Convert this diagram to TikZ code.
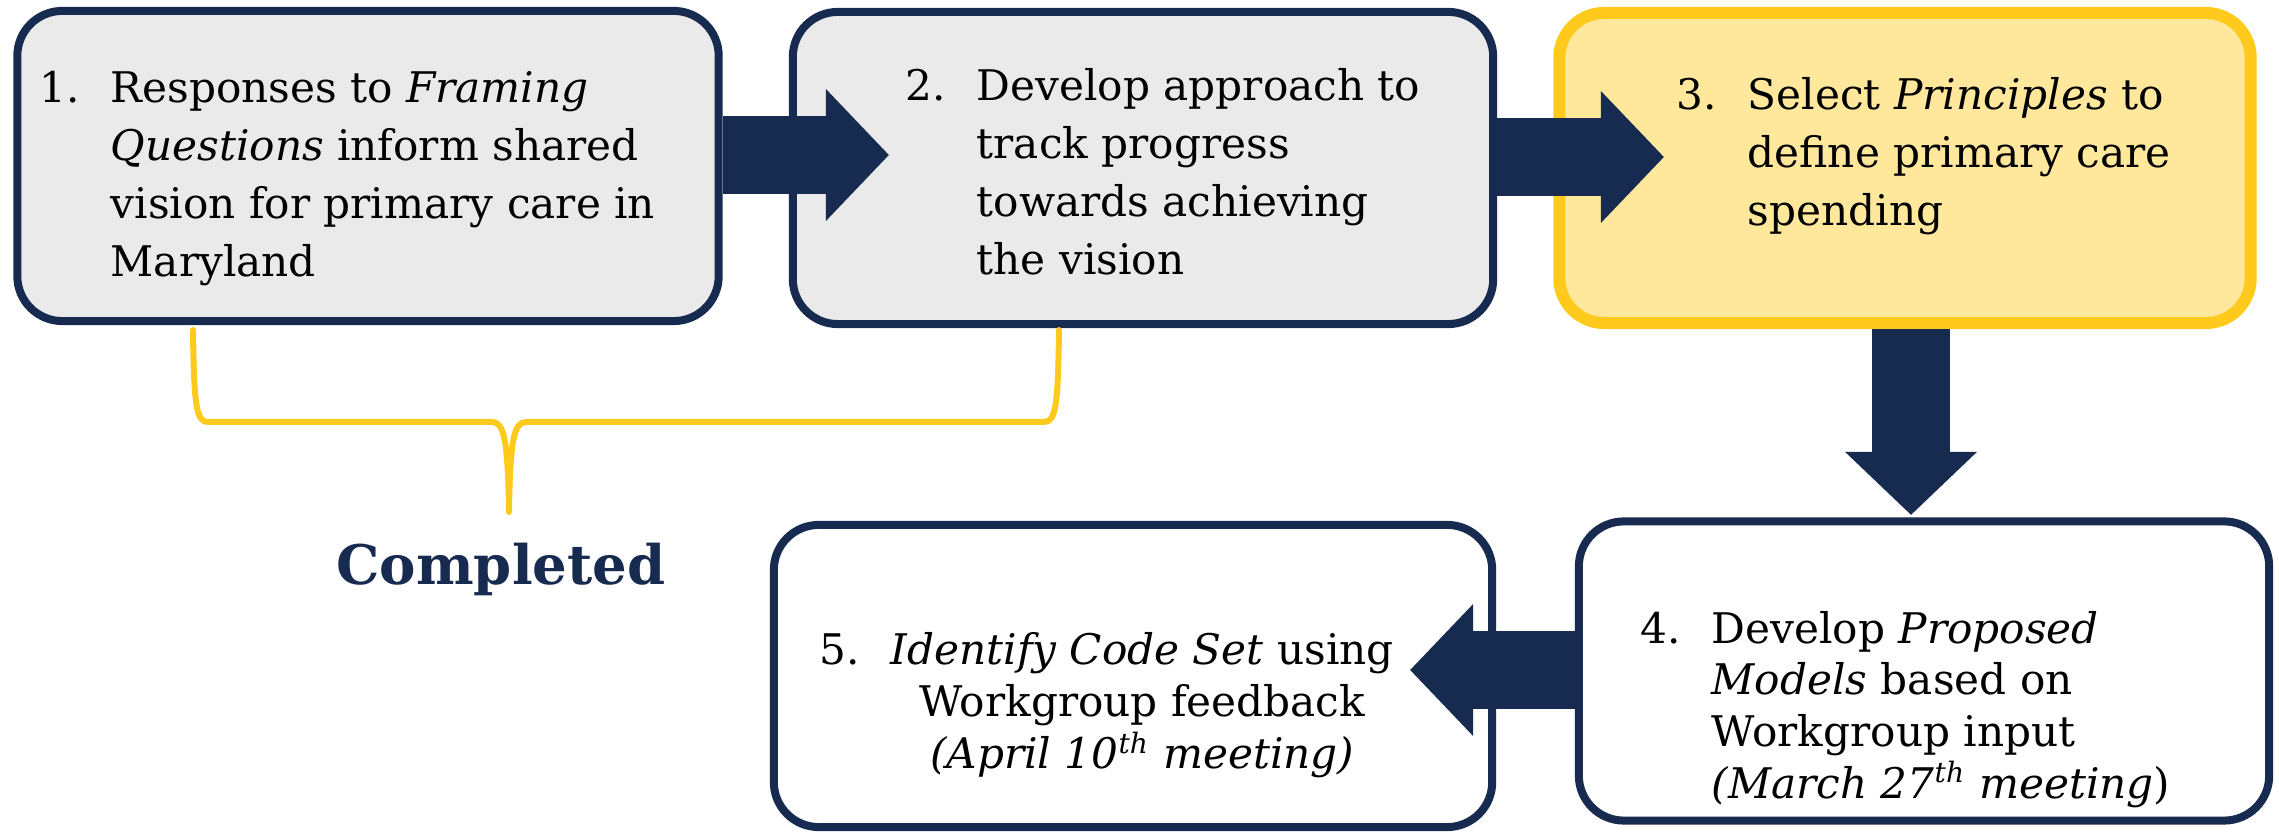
\documentclass[tikz,border=0pt]{standalone}
\usepackage{fontspec}
\setmainfont{DejaVu Serif}
\usetikzlibrary{arrows.meta}

\definecolor{navy}{HTML}{172A4F}
\definecolor{gold}{HTML}{FFCA1B}
\definecolor{paleyellow}{HTML}{FFE89C}
\definecolor{boxgray}{HTML}{EAEAEA}

\newcommand{\stepnum}[1]{\makebox[0.71cm][l]{#1}}
\newcommand{\ordsup}[1]{\smash{\textsuperscript{#1}}}

\tikzset{
	stepbox/.style={draw=navy, line width=0.08cm, rounded corners=0.45cm, inner sep=0pt},
	steptext/.style={anchor=base west, inner sep=0pt, font=\fontsize{12}{16.4}\selectfont},
	lowtext/.style={anchor=base west, inner sep=0pt, font=\fontsize{12}{14.7}\selectfont},
	bigarrow/.style={draw=navy, line width=0.78cm, -{Triangle[length=0.63cm, width=1.28cm]}},
	bracket/.style={draw=gold, line width=0.06cm, line cap=round, line join=round}
}

\begin{document}
\begin{tikzpicture}[x=0.01cm, y=-0.01cm]
	\useasboundingbox (0,0) rectangle (2279,834);
	% boxes
	\node[stepbox, fill=boxgray, minimum width=7.01cm, minimum height=3.10cm] (b1) at (368,166) {};
	\node[stepbox, fill=boxgray, minimum width=7.00cm, minimum height=3.12cm] (b2) at (1143,168) {};
	\node[stepbox, draw=gold, line width=0.12cm, fill=paleyellow, minimum width=6.91cm, minimum height=3.10cm] (b3) at (1905,168) {};
	\node[stepbox, fill=white, minimum width=6.90cm, minimum height=2.99cm] (b4) at (1924,671) {};
	\node[stepbox, fill=white, minimum width=7.18cm, minimum height=3.02cm] (b5) at (1133,676) {};
	% texts
	\node[steptext] (t1) at (39,103) {\begin{tabular}[t]{@{}l@{}l@{}}
		\stepnum{1.} & Responses to \textit{Framing}\\
		& \textit{Questions} inform shared\\
		& vision for primary care in\\
		& Maryland\end{tabular}};
	\node[steptext] (t2) at (905,101) {\begin{tabular}[t]{@{}l@{}l@{}}
		\stepnum{2.} & Develop approach to\\
		& track progress\\
		& towards achieving\\
		& the vision\end{tabular}};
	\node[steptext] (t3) at (1676,110) {\begin{tabular}[t]{@{}l@{}l@{}}
		\stepnum{3.} & Select \textit{Principles} to\\
		& define primary care\\
		& spending\end{tabular}};
	\node[lowtext] (t4) at (1640,643) {\begin{tabular}[t]{@{}l@{}l@{}}
		\stepnum{4.} & Develop \textit{Proposed}\\
		& \textit{Models} based on\\
		& Workgroup input\\
		& \textit{(March 27\ordsup{th} meeting})\end{tabular}};
	\node[lowtext] (t5) at (819,665) {\begin{tabular}[t]{@{}l@{}c@{}}
		\stepnum{5.} & \textit{Identify Code Set} using\\
		& Workgroup feedback\\
		& \textit{(April 10\ordsup{th} meeting)}\end{tabular}};
	\node[anchor=base, inner sep=0pt, text=navy, font=\fontsize{15.5}{18}\selectfont\bfseries] (done) at (501,585) {Completed};
	% arrows
	\coordinate (a12) at (889,155);
	\coordinate (a23) at (1664,157);
	\coordinate (a34) at (1911,515);
	\coordinate (a45) at (1410,670);
	\draw[bigarrow] (b1.east |- a12) -- (a12);
	\draw[bigarrow] (b2.east |- a23) -- (a23);
	\draw[bigarrow] (b3.south -| a34) -- (a34);
	\draw[bigarrow] (b4.west |- a45) -- (a45);
	% bracket over steps 1 and 2
	\draw[bracket] (193,330) .. controls (194,405) and (196,422) .. (208,422) -- (492,422)
		.. controls (504,422) and (508,440) .. (509,512)
		.. controls (510,440) and (514,422) .. (526,422) -- (1044,422)
		.. controls (1056,422) and (1058,405) .. (1059,330);
\end{tikzpicture}
\end{document}
